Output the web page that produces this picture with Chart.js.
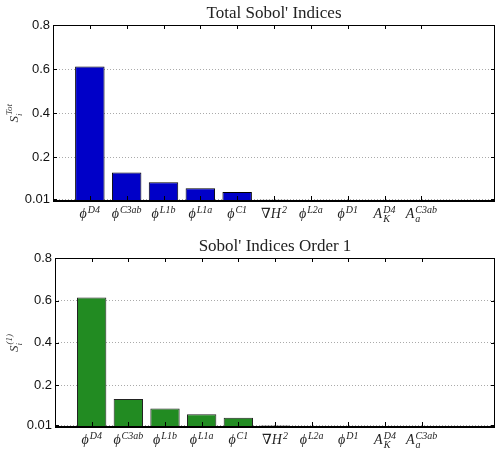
<!DOCTYPE html>
<html>
<head>
<meta charset="utf-8">
<script src="https://cdn.jsdelivr.net/npm/chart.js@4"></script>
<style>
  body { margin: 0; background: #fff; }
  #wrap { position: relative; width: 496px; height: 451px; }
  canvas { position: absolute; left: 0; }
</style>
</head>
<body>
<div id="wrap">
  <canvas id="totalChart" width="496" height="225" style="top:0"></canvas>
  <canvas id="orderChart" width="496" height="226" style="top:225px"></canvas>
</div>
<script>
// parametros (rotulos do eixo x em partes: base, expoente, indice)
const labelBase = ['ϕ', 'ϕ', 'ϕ', 'ϕ', 'ϕ', '∇H', 'ϕ', 'ϕ', 'A', 'A'];
const labelSup = ['D4', 'C3ab', 'L1b', 'L1a', 'C1', '2', 'L2a', 'D1', 'D4', 'C3ab'];
const labelSub = ['', '', '', '', '', '', '', '', 'K', 'a'];

// indices de Sobol
const totalIndices = [0.612, 0.132, 0.087, 0.060, 0.043, 0.008, 0.004, 0.004, 0.003, 0.003];
const order1Indices = [0.615, 0.135, 0.090, 0.063, 0.046, 0.010, 0.004, 0.004, 0.003, 0.003];

const yTicks = [0.01, 0.2, 0.4, 0.6, 0.8];
const yTickLabels = ['0.01', '0.2', '0.4', '0.6', '0.8'];

const serif = '"Liberation Serif", "DejaVu Serif", serif';

// desenha caixa, marcas internas, rotulos com expoentes e titulo do eixo y
const matlabAxes = {
    id: 'matlabAxes',
    afterDraw(chart, args, opts) {
        const { ctx, chartArea: a, scales: { x, y } } = chart;
        ctx.save();
        ctx.fillStyle = '#000';
        const L = Math.round(a.left), T = Math.round(a.top), R = Math.round(a.right), B = Math.round(a.bottom);
        // caixa com retangulos cheios (1px), base mais grossa
        ctx.fillRect(L, T, R - L, 1);
        ctx.fillRect(L, T, 1, B - T);
        ctx.fillRect(R - 1, T, 1, B - T);
        ctx.fillRect(L, B - 2, R - L, 2);

        // marcas internas
        labelBase.forEach((_, i) => {
            const px = Math.round(x.getPixelForValue(i + 1));
            ctx.fillRect(px, T, 1, 4);
            ctx.fillRect(px, B - 6, 1, 4);
        });
        yTicks.forEach(v => {
            const py = Math.round(y.getPixelForValue(v));
            ctx.fillRect(L, py, 4, 1);
            ctx.fillRect(R - 4, py, 4, 1);
        });

        // rotulos do eixo x
        ctx.fillStyle = '#222';
        ctx.textBaseline = 'alphabetic';
        const baseFont = 'italic 14px ' + serif;
        const smallFont = 'italic 10px ' + serif;
        labelBase.forEach((b, i) => {
            const px = x.getPixelForValue(i + 1);
            const by = a.bottom + 16;
            ctx.font = baseFont;
            let wb = 0;
            if (b === '∇H') {
                ctx.font = '14px ' + serif;
                wb += ctx.measureText('∇').width;
                ctx.font = baseFont;
                wb += ctx.measureText('H').width;
            } else {
                wb = ctx.measureText(b).width;
            }
            ctx.font = smallFont;
            const ws = Math.max(ctx.measureText(labelSup[i]).width, ctx.measureText(labelSub[i]).width);
            let cx = px - (wb + 1 + ws) / 2;
            if (b === '∇H') {
                ctx.font = '14px ' + serif;
                ctx.fillText('∇', cx, by);
                cx += ctx.measureText('∇').width;
                ctx.font = baseFont;
                ctx.fillText('H', cx, by);
                cx += ctx.measureText('H').width;
            } else {
                ctx.font = baseFont;
                ctx.fillText(b, cx, by);
                cx += wb;
            }
            ctx.font = smallFont;
            ctx.fillText(labelSup[i], cx + 1, by - 5);
            if (labelSub[i]) ctx.fillText(labelSub[i], cx + 1, by + 4);
        });

        // titulo do eixo y (rotacionado)
        ctx.translate(14, (a.top + a.bottom) / 2);
        ctx.rotate(-Math.PI / 2);
        ctx.fillStyle = '#333';
        ctx.font = 'italic 13px ' + serif;
        const wS = ctx.measureText('S').width;
        ctx.font = 'italic 9px ' + serif;
        const wT = ctx.measureText(opts.sup).width;
        let sx = -(wS + wT + 1) / 2;
        ctx.font = 'italic 13px ' + serif;
        ctx.fillText('S', sx, 4);
        ctx.font = 'italic 9px ' + serif;
        ctx.fillText(opts.sup, sx + wS + 1, -2);
        ctx.fillText('i', sx + wS, 8);
        ctx.restore();
    }
};

const makeChart = (canvasId, values, color, edge, title, sup, pad) => {
    const ctx = document.getElementById(canvasId).getContext('2d');
    return new Chart(ctx, {
        type: 'bar',
        data: {
            datasets: [{
                data: values.map((v, i) => ({ x: i + 1, y: v })),
                backgroundColor: color,
                borderColor: edge,
                borderWidth: 1,
                barPercentage: 0.8,
                categoryPercentage: 1
            }]
        },
        options: {
            responsive: false,
            animation: false,
            devicePixelRatio: 1,
            layout: { padding: { left: 0, right: 1, top: 0, bottom: 0 } },
            plugins: {
                legend: { display: false },
                tooltip: { enabled: false },
                title: {
                    display: true,
                    text: title,
                    fullSize: false,
                    color: '#222',
                    font: { family: serif, size: 17, weight: 'normal' },
                    padding: pad
                },
                matlabAxes: { sup: sup }
            },
            scales: {
                x: {
                    type: 'linear',
                    offset: false,
                    min: 0,
                    max: 12,
                    ticks: { display: false },
                    grid: { display: false, offset: false },
                    border: { display: false },
                    afterFit: (s) => { s.height = 23.5; }
                },
                y: {
                    min: 0,
                    max: 0.8,
                    afterBuildTicks: (s) => { s.ticks = yTicks.map(v => ({ value: v })); },
                    afterFit: (s) => { s.width = s.chart.canvas.id === 'totalChart' ? 53 : 55; },
                    ticks: {
                        padding: 3,
                        color: '#111',
                        font: { family: '"Liberation Sans", Arial, sans-serif', size: 13 },
                        callback: (v, i) => yTickLabels[i]
                    },
                    grid: {
                        drawTicks: false,
                        color: (c) => c.tick && c.tick.value === 0.8 ? 'rgba(0,0,0,0)' : '#aaa',
                        lineWidth: 1
                    },
                    border: { display: false, dash: [1, 2] }
                }
            }
        },
        plugins: [matlabAxes]
    });
};

makeChart('totalChart', totalIndices, '#0000c8', '#000', "Total Sobol' Indices", 'Tot', { top: 3, bottom: 1.6 });
makeChart('orderChart', order1Indices, '#228b22', '#222', "Sobol' Indices Order 1", '(1)', { top: 11.5, bottom: 1.4 });
</script>
</body>
</html>
